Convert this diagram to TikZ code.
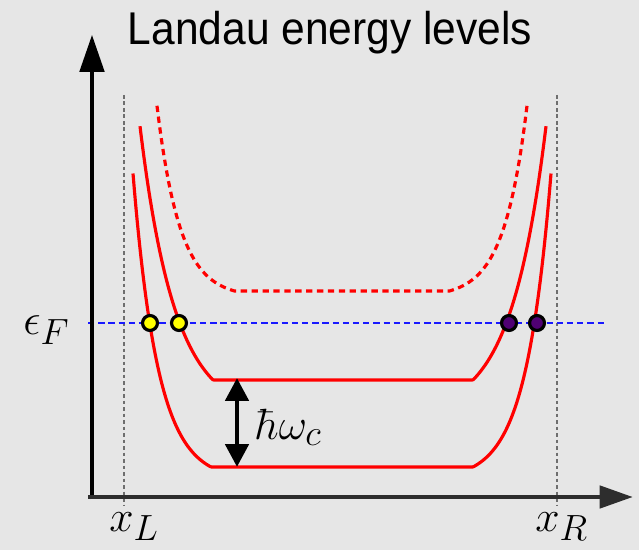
\documentclass[tikz,border=0pt]{standalone}
\usepackage{fontspec}
\usepackage{graphicx}
\newfontfamily\titlefont{Liberation Sans}
\def\defaultscriptratio{.76}
\usetikzlibrary{arrows.meta}
\definecolor{bg}{RGB}{230,230,230}
\definecolor{axisgray}{RGB}{45,45,45}
\definecolor{dotpurple}{RGB}{80,0,115}
\definecolor{dotyellow}{RGB}{255,255,0}
\definecolor{levelred}{RGB}{255,0,0}
\definecolor{fermiblue}{RGB}{25,25,255}
\definecolor{guidegray}{RGB}{110,110,110}
\begin{document}
\begin{tikzpicture}[x=0.02cm,y=-0.02cm,
  level/.style={draw=levelred, line width=1.8pt, line join=round},
  leveldashed/.style={level, dash pattern=on 3.6pt off 2.6pt},
  fermi/.style={draw=fermiblue, line width=1.6pt, dash pattern=on 3.6pt off 2.2pt},
  guide/.style={draw=guidegray, line width=1.1pt, dash pattern=on 2pt off 1.7pt},
  yaxis/.style={draw=black, line width=1.8pt, -{Triangle[length=21pt,width=14pt]}},
  xaxis/.style={draw=axisgray, line width=2.8pt, -{Triangle[length=19pt,width=12.5pt]}},
  gap/.style={draw=black, line width=2.8pt, {Triangle[length=13pt,width=13pt]}-{Triangle[length=13pt,width=13pt]}},
  crossing/.style={circle, draw=black, line width=1.8pt, minimum size=8.5pt, inner sep=0pt},
  ycross/.style={crossing, fill=dotyellow},
  pcross/.style={crossing, fill=dotpurple},
  mathlabel/.style={font=\fontsize{25.6}{30}\selectfont, inner sep=0pt, anchor=base west}]
\fill[bg] (0,0) rectangle (639,550);
\useasboundingbox (0,0) rectangle (639,550);

% guide lines
\coordinate (gLt) at (124,95);
\coordinate (gLb) at (124,505);
\coordinate (gRt) at (557,95);
\coordinate (gRb) at (557,505);
\draw[guide] (gLt) -- (gLb);
\draw[guide] (gRt) -- (gRb);

% Fermi level
\coordinate (fL) at (88,323);
\coordinate (fR) at (606,323);
\draw[fermi] (fL) -- (fR);

% Landau levels
\draw[level] plot[domain=133:551, samples=320] (\x,{467-13.56*(exp(max(abs(\x-342)-131,0)/25)-1)});
\draw[level] plot[domain=140:546, samples=320] (\x,{380-36*(exp(max(abs(\x-343)-130,0)/35)-1)});
\draw[leveldashed] plot[domain=157:527, samples=320] (\x,{291-6.6*(exp(max(abs(\x-342)-107.5,0)/23)-1)});

% crossings
\node[ycross] (c1) at (150,323) {};
\node[ycross] (c2) at (179,323) {};
\node[pcross] (c3) at (509,323) {};
\node[pcross] (c4) at (537,323) {};

% axes
\coordinate (yb) at (92,499);
\coordinate (yt) at (92,35);
\coordinate (xb) at (88,497);
\coordinate (xt) at (633,497);
\draw[yaxis] (yb) -- (yt);
\draw[xaxis] (xb) -- (xt);

% gap arrow
\coordinate (h1) at (237,378);
\coordinate (h2) at (237,467);
\draw[gap] (h1) -- (h2);

% labels
\node[font=\titlefont\fontsize{24.2}{29}\selectfont, inner sep=0pt, anchor=base] (title) at (330,45) {\scalebox{1}[1.08]{Landau energy levels}};
\node[mathlabel] (eF) at (23,335) {$\epsilon_F$};
\node[mathlabel] (xL) at (109,531) {$x_L$};
\node[mathlabel] (xR) at (535,531) {$x_R$};
\node[mathlabel] (hw) at (255,439) {$\hbar\omega_c$};
\end{tikzpicture}
\end{document}
